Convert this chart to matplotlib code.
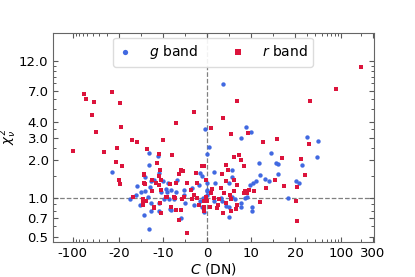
import numpy as np
import matplotlib
matplotlib.use("Agg")
import matplotlib.pyplot as plt
from matplotlib.ticker import FixedLocator, FixedFormatter

# g band points (C in DN, reduced chi^2)
g_c = [-13.2, -11.2, 3.7, -0.5, 8.9, 10.0, 7.8, 0.34, 0.05, 14.4, 30, 44.6, 43,
       -25, -13.2, -11.0, -14.1, -12.8, -15.8, -14.1, -16.2, -17.4, -15.2, -14.3,
       -12.8, -13.1, -11.0, -9.8, -8.2, -9.9, -8.8, -7.0, -6.7, -7.5, -8.2, -6.0,
       -4.9, -5.2, -5.2, -3.3, -1.6, -1.1, -1.9, -3.0, -1.1, -1.5, 0.0, 0.05,
       -14.9, -12.0, -12.9, -10.4, -9.4, -9.0, -8.6, -13.5, -10.9, -12.8, -8.4,
       15.6, 16.0, 25.2, 11.7, 12.1, 16.1, 14.1, 13.2, 20.3, 23.2, 18.4, 10.2,
       10.2, 9.8, 10.4, 11.1, 9.1, 8.7, 7.7, 7.6, 4.9, 4.2, -0.6, 5.7, 1.5, 5.7,
       4.9, 1.9, -0.1, 0.0, 3.1, 5.7, 6.4, 4.9, 3.4, 1.5, -0.9]
g_chi = [2.28, 2.13, 7.92, 3.52, 3.66, 3.31, 2.95, 2.53, 2.24, 2.27, 3.03, 2.81, 2.11,
         1.62, 1.82, 1.58, 1.47, 1.36, 1.24, 1.13, 1.07, 0.99, 0.88, 0.74,
         0.92, 0.57, 0.91, 0.98, 1.17, 1.36, 1.32, 1.12, 1.40, 0.98, 0.81, 0.70,
         0.92, 1.17, 1.07, 1.20, 1.58, 1.49, 1.28, 0.89, 0.86, 0.95, 1.13, 1.32,
         1.11, 1.38, 1.22, 1.11, 1.18, 1.11, 0.99, 1.02, 0.79, 0.79, 0.82,
         1.89, 1.87, 1.83, 1.89, 1.52, 1.55, 1.36, 1.41, 1.37, 1.32, 1.00, 0.86,
         0.79, 1.28, 1.32, 1.37, 1.03, 1.00, 0.92, 0.86, 0.71, 0.87, 0.78, 1.68, 1.60, 1.46,
         1.32, 1.32, 1.17, 1.07, 1.00, 1.03, 0.98, 0.86, 0.95, 0.96, 1.00]

# r band points
r_c = [-68, -62, -47, -25.5, -19.8, -51, -44, -19.4, -97, -34, -21, -17.1, -15.8,
       -13.7, -10.8, -10.1, 6.7, -3.05, -7.0, 3.6, 0.86, 9.2, 5.5, 12.8, -7.9,
       6.2, 7.3, 7.6, 200, 83.6, 33, 15.9, 32.3, 17.1, 24.6,
       -22, -19.3, -20.1, -19.7, -11.3, -10.7, -10.8, -14.3, -12.4, -14.3, -12.4,
       -16.9, -14.5, -14.5, -12.0, -10.5, -9.0, -8.5, -7.5, -7.3, -7.0, -6.0, -5.4,
       -6.3, -8.2, -7.0, -6.0, -6.4, -4.5, -4.5, -5.2, -5.6, -3.7, -2.6, -1.1,
       -2.2, -3.0, -3.3, -2.2, -1.9, -0.7, -0.3, -0.1, -0.2,
       -14.1, -14.3, -10.5, -11.6, -10.9, -10.5, -9.2, -14.6, -13.9, -14.5, -12.0,
       -10.7, -10.5,
       27.7, 15.3, 17.4, 21.6, 20.7, 21.2, 13.4, 12.1, 9.6, 10.6, 8.5, 9.1, 8.3,
       6.8, 6.6, 5.5, 3.7, 2.3, 2.5, 0.6, -0.7, 4.3, 3.5, 4.8, 8.3, -0.6, 4.2,
       6.1, 6.8, 3.1, 1.2, 0.8, 1.5, 2.7, 3.8, 5.2, 6.1, 5.5, 4.4, -0.7]
r_chi = [6.58, 6.01, 5.75, 6.86, 5.59, 4.53, 3.31, 3.60, 2.37, 2.31, 2.48, 2.87, 2.79,
         2.45, 2.21, 2.88, 5.80, 4.75, 3.89, 4.26, 3.58, 3.23, 3.17, 2.79, 2.20,
         2.12, 2.19, 2.01, 10.7, 7.2, 5.83, 2.93, 2.68, 2.09, 2.03,
         1.93, 1.80, 1.40, 1.30, 1.89, 1.66, 1.49, 1.55, 1.40, 1.32, 1.13,
         1.02, 0.96, 0.88, 0.84, 0.77, 1.03, 1.29, 1.03, 1.00, 1.32, 1.68, 1.63,
         1.56, 0.86, 0.81, 0.81, 0.68, 0.53, 1.32, 1.03, 0.98, 1.17, 1.58, 1.78,
         1.32, 1.07, 0.98, 1.00, 0.89, 0.79, 1.03, 0.95, 1.40,
         1.29, 1.53, 1.40, 1.32, 1.26, 1.17, 1.02, 0.99, 0.95, 0.92, 0.86,
         0.91, 0.76,
         1.53, 1.40, 1.24, 1.23, 0.95, 0.66, 1.20, 0.93, 1.17, 1.15, 1.13, 1.10, 1.09,
         0.89, 0.82, 0.79, 0.76, 0.84, 0.89, 0.85, 0.86, 1.82, 1.55, 1.68, 1.78, 1.78, 1.36,
         1.38, 1.28, 1.20, 1.18, 1.10, 1.00, 0.98, 1.10, 1.07, 1.13, 0.98, 0.91, 0.95]

x_ticks = [-100, -20, -10, 0, 10, 20, 100, 300]
x_minor = [-90, -80, -70, -60, -50, -40, -30, -15, -5, 5, 15,
           30, 40, 50, 60, 70, 80, 90, 200]
y_ticks = [0.5, 0.7, 1.0, 2.0, 3.0, 4.0, 7.0, 12.0]
y_minor = [0.6, 0.8, 0.9, 1.5, 2.5, 3.5, 5, 6, 8, 9, 10, 11]

fig, ax = plt.subplots(figsize=(4.15, 2.77), dpi=100)
fig.subplots_adjust(left=0.127, right=0.9, top=0.882, bottom=0.125)

ax.set_xscale("symlog", linthresh=20, linscale=1.2)
ax.set_yscale("log")

ax.axvline(0, color="0.5", ls="--", lw=0.9, zorder=1)
ax.axhline(1, color="0.5", ls="--", lw=0.9, zorder=1)

ax.scatter(g_c, g_chi, s=10, marker="o", color="#4169E1", lw=0, label="$g$ band", zorder=2)
ax.scatter(r_c, r_chi, s=12, marker="s", color="#DC143C", lw=0, label="$r$ band", zorder=3)

ax.set_xlim(-200, 305)
ax.set_ylim(0.45, 20)

ax.xaxis.set_major_locator(FixedLocator(x_ticks))
ax.xaxis.set_major_formatter(FixedFormatter([str(t) for t in x_ticks]))
ax.xaxis.set_minor_locator(FixedLocator(x_minor))
ax.xaxis.set_minor_formatter(FixedFormatter([""] * len(x_minor)))
ax.yaxis.set_major_locator(FixedLocator(y_ticks))
ax.yaxis.set_major_formatter(FixedFormatter([f"{t:.1f}" for t in y_ticks]))
ax.yaxis.set_minor_locator(FixedLocator(y_minor))
ax.yaxis.set_minor_formatter(FixedFormatter([""] * len(y_minor)))

ax.tick_params(which="both", direction="in", top=True, right=True,
               color="0.35", labelsize=9.5, pad=3)
ax.tick_params(which="major", length=3.5, width=0.8)
ax.tick_params(which="minor", length=2.2, width=0.7)
for s in ax.spines.values():
    s.set_color("0.4")

ax.set_xlabel("$C$ (DN)", fontsize=10, labelpad=1)
ax.set_ylabel(r"$\chi^2_\nu$", fontsize=9.5, labelpad=0)

ax.legend(loc="upper center", ncol=2, fontsize=10, handlelength=1.0,
          handletextpad=1.2, columnspacing=2.4, borderaxespad=0.35,
          markerscale=1.2, framealpha=0.9, edgecolor="0.85")

fig.savefig("out.png", dpi=100)
